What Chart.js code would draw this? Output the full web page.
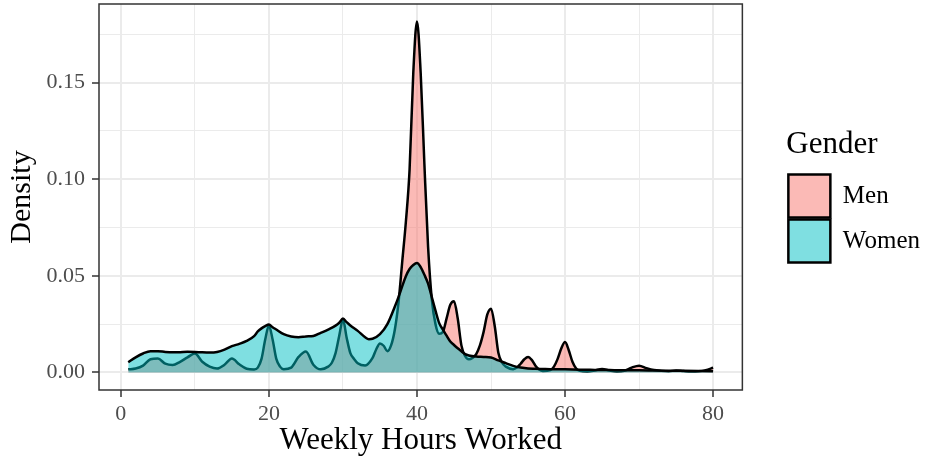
<!DOCTYPE html>
<html>
<head>
<meta charset="utf-8">
<script src="https://cdn.jsdelivr.net/npm/chart.js@4/dist/chart.umd.min.js"></script>
<style>
  html, body { margin: 0; padding: 0; background: #fff; }
  #wrap { width: 930px; height: 462px; }
</style>
</head>
<body>
<div id="wrap"><canvas id="densityChart" width="930" height="462"></canvas></div>
<script>
// density estimates
const menHours = [
  1, 2, 3, 4, 5, 6, 7, 8, 9, 10, 11, 12, 13, 14, 15, 16, 17, 18, 18.5, 19, 19.5, 20, 20.5, 21, 21.5, 22,
  23, 24, 25, 26, 27, 28, 28.5, 29, 29.5, 30, 30.5, 31, 31.5, 32, 33, 34, 34.5, 35, 35.5, 36, 36.5,
  37, 37.5, 38, 38.5, 39, 39.5, 40, 40.5, 41, 41.5, 42, 42.5, 43, 43.5, 44, 44.5, 45, 45.5, 46, 46.5,
  47, 47.5, 48, 48.5, 49, 49.5, 50, 50.5, 51, 51.5, 52, 53, 53.5, 54, 54.5, 55, 55.5, 56, 56.5, 57,
  58, 58.5, 59, 59.5, 60, 60.5, 61, 61.5, 62, 63, 64, 65, 66, 67, 68, 69, 70, 71, 72, 73, 74, 75,
  76, 77, 78, 79, 80
];
const menDensity = [
  0.0016, 0.002, 0.0035, 0.0068, 0.0072, 0.0045, 0.0038, 0.0055, 0.0078, 0.0098, 0.0055, 0.003, 0.002, 0.004, 0.0072, 0.0042, 0.0019, 0.0015, 0.0025, 0.007, 0.017, 0.0243, 0.017, 0.007, 0.003, 0.0017,
  0.0025, 0.008, 0.0108, 0.004, 0.0016, 0.003, 0.005, 0.01, 0.019, 0.0274, 0.018, 0.01, 0.007, 0.0048, 0.0036, 0.0075, 0.012, 0.015, 0.0138, 0.011, 0.014,
  0.022, 0.036, 0.057, 0.078, 0.105, 0.155, 0.1817, 0.155, 0.108, 0.065, 0.038, 0.025, 0.02, 0.021, 0.028, 0.035, 0.0368, 0.028, 0.014, 0.0085,
  0.0068, 0.0075, 0.0095, 0.014, 0.021, 0.03, 0.033, 0.024, 0.01, 0.005, 0.003, 0.0017, 0.0025, 0.0045, 0.0068, 0.008, 0.0065, 0.0035, 0.0015, 0.0007,
  0.0012, 0.003, 0.007, 0.0125, 0.0157, 0.0115, 0.0055, 0.002, 0.0008, 0.0005, 0.001, 0.0018, 0.001, 0.0005, 0.0008, 0.0025, 0.0035, 0.0022, 0.0012, 0.0008, 0.0006, 0.001,
  0.0007, 0.0005, 0.0006, 0.0012, 0.0024
];

const womenHours = [
  1, 2, 3, 4, 5, 6, 7, 8, 9, 10, 11, 12, 13, 14, 15, 16, 17, 18, 18.5, 19, 19.5, 20, 20.5, 21, 22,
  23, 24, 25, 26, 27, 28, 29, 29.5, 30, 30.5, 31, 32, 33, 33.5, 34, 35, 36, 37, 37.5, 38, 38.5,
  39, 39.5, 40, 40.5, 41, 41.5, 42, 42.5, 43, 43.5, 44, 44.5, 45, 45.5, 46, 46.5, 47, 48, 49, 50,
  51, 52, 53, 54, 55, 56, 57, 58, 60, 62, 64, 66, 68, 70, 72, 74, 76, 78, 80
];
const womenDensity = [
  0.0053, 0.0078, 0.0098, 0.011, 0.011, 0.0106, 0.0104, 0.0105, 0.0107, 0.0106, 0.0104, 0.0103, 0.0106, 0.0118, 0.0136, 0.0148, 0.0163, 0.0188, 0.0212, 0.0228, 0.024, 0.0248, 0.0234, 0.0222, 0.0198,
  0.0186, 0.0182, 0.0186, 0.0189, 0.0205, 0.0222, 0.0242, 0.0257, 0.0279, 0.026, 0.0243, 0.0215, 0.0182, 0.0172, 0.0174, 0.0198, 0.025, 0.034, 0.039, 0.0445, 0.0498,
  0.0535, 0.0556, 0.0566, 0.0545, 0.0505, 0.046, 0.039, 0.032, 0.0255, 0.0222, 0.019, 0.016, 0.0142, 0.0125, 0.011, 0.0095, 0.0088, 0.0082, 0.008, 0.0077,
  0.0062, 0.0048, 0.0034, 0.0025, 0.002, 0.0019, 0.0018, 0.0017, 0.0016, 0.0014, 0.0013, 0.0012, 0.0011, 0.0011, 0.001, 0.0009, 0.0008, 0.0007, 0.0006
];

const seriesNames = ['Men', 'Women'];
const xTicks = [0, 10, 20, 30, 40, 50, 60, 70, 80];
const xLabels = ['0', '', '20', '', '40', '', '60', '', '80'];
const yTicks = [0, 0.025, 0.05, 0.075, 0.10, 0.125, 0.15, 0.175];
const yLabels = ['0.00', '', '0.05', '', '0.10', '', '0.15', ''];

const serif = "'Liberation Serif', 'DejaVu Serif', serif";
const gridColor = '#ebebeb';
const darkGrey = '#333333';

function toPoints(xs, ys) {
  return xs.map((x, i) => ({ x: x, y: ys[i] }));
}

function noEdgePadding(axis) {
  axis.paddingTop = 0;
  axis.paddingBottom = 0;
  axis.paddingLeft = 0;
  axis.paddingRight = 0;
}

// ggplot style panel border on top
const panelBorder = {
  id: 'panelBorder',
  afterDraw(chart) {
    const { ctx, chartArea } = chart;
    ctx.save();
    ctx.strokeStyle = darkGrey;
    ctx.lineWidth = 1.5;
    ctx.strokeRect(chartArea.left, chartArea.top, chartArea.right - chartArea.left, chartArea.bottom - chartArea.top);
    ctx.restore();
  }
};

const ctx = document.getElementById('densityChart').getContext('2d');

const densityChart = new Chart(ctx, {
  type: 'line',
  data: {
    datasets: [
      {
        label: seriesNames[0],
        data: toPoints(menHours, menDensity),
        backgroundColor: 'rgba(248, 118, 109, 0.5)',
        borderColor: '#000000',
        borderWidth: 2.5,
        fill: 'origin',
        pointRadius: 0,
        cubicInterpolationMode: 'monotone',
        order: 2
      },
      {
        label: seriesNames[1],
        data: toPoints(womenHours, womenDensity),
        backgroundColor: 'rgba(0, 191, 196, 0.5)',
        borderColor: '#000000',
        borderWidth: 2.5,
        fill: 'origin',
        pointRadius: 0,
        cubicInterpolationMode: 'monotone',
        order: 1
      }
    ]
  },
  options: {
    responsive: false,
    animation: false,
    devicePixelRatio: 1,
    layout: { padding: { top: 4, right: 0, bottom: 0, left: 0 } },
    plugins: {
      tooltip: { enabled: false },
      legend: {
        position: 'right',
        fullSize: false,
        align: 'center',
        title: {
          display: true,
          text: 'Gender',
          position: 'start',
          color: '#000',
          font: { family: serif, size: 31 },
          padding: { top: 0, bottom: 6 }
        },
        labels: {
          boxWidth: 42,
          boxHeight: 43,
          padding: 2,
          color: '#000',
          font: { family: serif, size: 25 },
          sort: (a, b) => a.datasetIndex - b.datasetIndex
        }
      }
    },
    scales: {
      x: {
        type: 'linear',
        min: -2.95,
        max: 83.95,
        afterBuildTicks: axis => { axis.ticks = xTicks.map(v => ({ value: v })); },
        afterFit: axis => { axis.height = 72; noEdgePadding(axis); },
        ticks: {
          autoSkip: false,
          maxRotation: 0,
          color: '#4d4d4d',
          font: { family: serif, size: 22 },
          padding: 4,
          callback: (v, i) => xLabels[i]
        },
        grid: {
          color: gridColor,
          lineWidth: c => (xLabels[c.index] ? 2 : 1),
          tickLength: 7,
          tickWidth: 1.5,
          tickColor: c => (xLabels[c.index] ? darkGrey : 'rgba(0,0,0,0)')
        },
        border: { display: false },
        title: {
          display: true,
          text: 'Weekly Hours Worked',
          color: '#000',
          font: { family: serif, size: 31 },
          padding: { top: 0, bottom: 3 }
        }
      },
      y: {
        type: 'linear',
        min: -0.0091,
        max: 0.1907,
        afterBuildTicks: axis => { axis.ticks = yTicks.map(v => ({ value: v })); },
        afterFit: axis => { axis.width = 99; noEdgePadding(axis); },
        ticks: {
          autoSkip: false,
          color: '#4d4d4d',
          font: { family: serif, size: 22 },
          padding: 7,
          callback: (v, i) => yLabels[i]
        },
        grid: {
          color: gridColor,
          lineWidth: c => (yLabels[c.index] ? 2 : 1),
          tickLength: 7,
          tickWidth: 1.5,
          tickColor: c => (yLabels[c.index] ? darkGrey : 'rgba(0,0,0,0)')
        },
        border: { display: false },
        title: {
          display: true,
          text: 'Density',
          color: '#000',
          font: { family: serif, size: 30 },
          padding: { top: 4, bottom: 0 }
        }
      },
      gap: {
        type: 'linear',
        position: 'right',
        display: true,
        grid: { display: false },
        border: { display: false },
        ticks: { display: false },
        afterFit: axis => { axis.width = 44; noEdgePadding(axis); }
      }
    }
  },
  plugins: [panelBorder]
});
</script>
</body>
</html>
